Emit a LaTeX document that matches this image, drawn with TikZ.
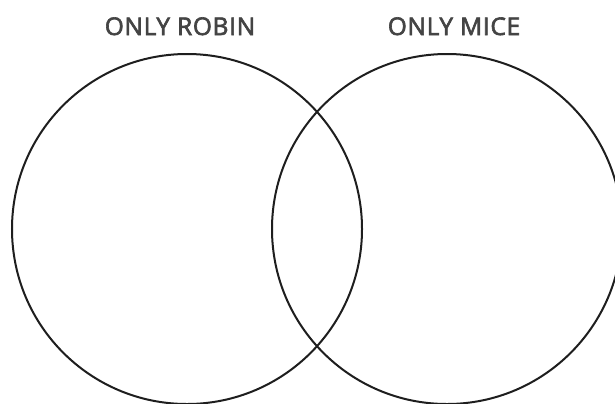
\documentclass[tikz,border=0pt]{standalone}
\usepackage{fontspec}
\setmainfont{Open Sans}[FakeBold=2.6, LetterSpace=3]
\definecolor{txtgray}{HTML}{444444}
\definecolor{linecol}{HTML}{1E1E1E}
\tikzset{
  setcircle/.style={draw=linecol, line width=2bp},
  setlabel/.style={text=txtgray, font=\fontsize{24.5}{28}\selectfont, inner sep=0pt, anchor=base}
}
\begin{document}
\begin{tikzpicture}[x=1bp,y=-1bp]
\useasboundingbox (0,0) rectangle (615,403);
\fill[white] (0,0) rectangle (615,403);
\begin{scope}
\clip (0,0) rectangle (615,403);
\node[setcircle, circle, minimum size=350bp, inner sep=0pt] (robin) at (187,229) {};
\node[setcircle, circle, minimum size=350bp, inner sep=0pt] (mice) at (447,229) {};
\end{scope}
\node[setlabel] (lrobin) at (180,35) {ONLY ROBIN};
\node[setlabel] (lmice) at (454,35) {ONLY MICE};
\end{tikzpicture}
\end{document}
